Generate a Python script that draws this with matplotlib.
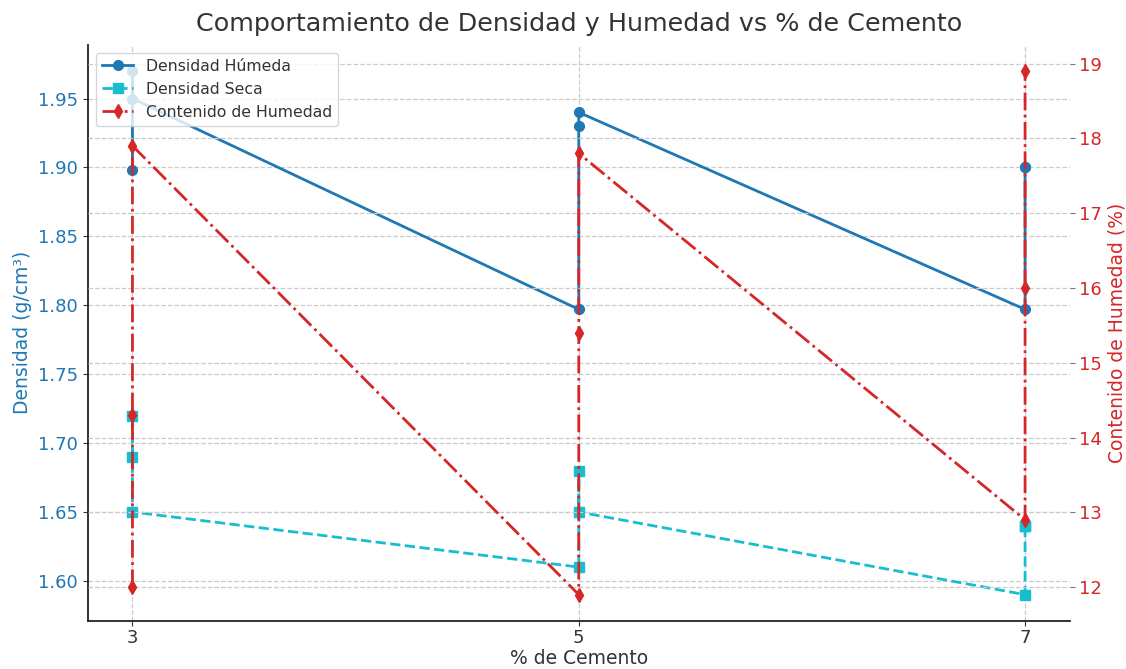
import matplotlib
matplotlib.use("Agg")
import matplotlib.pyplot as plt

cemento = [3, 3, 3, 5, 5, 5, 7, 7, 7]
densidad_humeda = [1.898, 1.970, 1.950, 1.797, 1.930, 1.940, 1.797, 1.900, 1.900]
densidad_seca = [1.690, 1.720, 1.650, 1.610, 1.680, 1.650, 1.590, 1.640, 1.640]
humedad = [12.0, 14.3, 17.9, 11.9, 15.4, 17.8, 12.9, 16.0, 18.9]
xticks = [3, 5, 7]

plt.rcParams['font.family'] = ['DejaVu Sans']
text_color = '#333333'
c_hum = '#1f77b4'
c_seca = '#17becf'
c_w = '#d62728'

fig = plt.figure(figsize=(11.26, 6.69), dpi=100)
ax = fig.add_axes([0.078, 0.072, 0.872, 0.861])
ax2 = ax.twinx()

l1, = ax.plot(cemento, densidad_humeda, color=c_hum, marker='o', linestyle='-',
              linewidth=2, markersize=7, label='Densidad Húmeda')
l2, = ax.plot(cemento, densidad_seca, color=c_seca, marker='s', linestyle='--',
              linewidth=2, markersize=7, label='Densidad Seca')
l3, = ax2.plot(cemento, humedad, color=c_w, marker='d', linestyle='-.',
               linewidth=2, markersize=7, label='Contenido de Humedad')

ax.set_xticks(xticks)
ax.set_xticklabels([str(t) for t in xticks])
ax.set_xlabel('% de Cemento', fontsize=13.5, color=text_color, labelpad=1)
ax.set_ylabel('Densidad (g/cm³)', fontsize=13.5, color=c_hum)
ax2.set_ylabel('Contenido de Humedad (%)', fontsize=13.5, color=c_w)
ax.set_title('Comportamiento de Densidad y Humedad vs % de Cemento',
             fontsize=18.3, color=text_color, pad=10)

ax.tick_params(axis='y', labelcolor=c_hum, labelsize=13, color=text_color)
ax.tick_params(axis='x', labelcolor=text_color, labelsize=13, color=text_color, pad=2.5)
ax2.tick_params(axis='y', labelcolor=c_w, labelsize=13, color='#777777')

ax.grid(True, linestyle='--', color='#cccccc', linewidth=0.9)
ax2.grid(True, linestyle='--', color='#cccccc', linewidth=0.9)

for s in ['top', 'right']:
    ax.spines[s].set_visible(False)
for s in ['top', 'right', 'left', 'bottom']:
    ax2.spines[s].set_visible(False)
for s in ['left', 'bottom']:
    ax.spines[s].set_color('#222222')
    ax.spines[s].set_linewidth(1.3)

leg = ax2.legend([l1, l2, l3], [l1.get_label(), l2.get_label(), l3.get_label()],
                 loc='upper left', fontsize=11.3, framealpha=0.8)
for t in leg.get_texts():
    t.set_color(text_color)

fig.savefig('out.png', dpi=100)
